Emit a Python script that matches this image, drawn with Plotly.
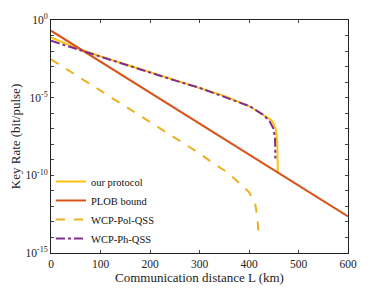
import plotly.graph_objects as go

# Data (distance in km, key rate in bit/pulse)
L_ours = [0, 20, 40, 60, 80, 100, 150, 200, 250, 300, 350, 400, 430, 445, 450, 454.5, 457, 458, 458.3]
R_ours = [7.6e-2, 4.0e-2, 2.2e-2, 1.26e-2, 7.2e-3, 4.5e-3, 1.41e-3, 4.4e-4, 1.35e-4, 4.3e-5,
          1.3e-5, 2.9e-6, 8.0e-7, 3.7e-7, 2.0e-7, 8.3e-8, 1.45e-8, 1.5e-9, 1.5e-10]

L_plob = [0, 100, 200, 300, 400, 500, 600]
R_plob = [2.04e-1, 2.1e-3, 2.1e-5, 2.2e-7, 2.2e-9, 2.2e-11, 2.3e-13]

L_pol = [0, 50, 100, 150, 200, 250, 300, 328, 355, 378, 400, 412, 417, 419]
R_pol = [2.95e-3, 2.9e-4, 2.9e-5, 2.8e-6, 2.8e-7, 2.7e-8, 2.6e-9, 5.8e-10, 1.66e-10,
         3.7e-11, 8.3e-12, 1.86e-12, 1.95e-13, 2.1e-14]

L_ph = [0, 50, 100, 150, 200, 250, 300, 368, 402, 429, 442, 449, 452.5, 453, 453.2]
R_ph = [4.6e-2, 1.41e-2, 4.4e-3, 1.35e-3, 4.2e-4, 1.29e-4, 4.3e-5, 7.4e-6, 2.75e-6,
        7.9e-7, 2.9e-7, 1.07e-7, 3.1e-8, 6.0e-9, 1.2e-9]

x_ticks = [0, 100, 200, 300, 400, 500, 600]
y_major_exps = [0, -5, -10, -15]
y_minor_exps = [e for e in range(0, -16, -1) if e % 5 != 0]

fig = go.Figure()
fig.add_trace(go.Scatter(x=L_ours, y=R_ours, mode="lines", name="our protocol",
                         line=dict(color="#FFC20E", width=2)))
fig.add_trace(go.Scatter(x=L_plob, y=R_plob, mode="lines", name="PLOB bound",
                         line=dict(color="#D95319", width=2)))
fig.add_trace(go.Scatter(x=L_pol, y=R_pol, mode="lines", name="WCP-Pol-QSS",
                         line=dict(color="#EDB120", width=2, dash="dash")))
fig.add_trace(go.Scatter(x=L_ph, y=R_ph, mode="lines", name="WCP-Ph-QSS",
                         line=dict(color="#7E2F8E", width=2, dash="dashdot")))

font = "Liberation Serif, Times New Roman, serif"
# the page body has an 8px margin, so the figure is sized to fit the 385x289 window
fig.update_layout(
    width=377, height=281,
    margin=dict(l=43, r=37, t=12, b=36),
    paper_bgcolor="white", plot_bgcolor="white",
    font=dict(family=font, size=11.5, color="#222"),
    showlegend=True,
    legend=dict(x=0.0, y=0.0, xanchor="left", yanchor="bottom",
                bgcolor="rgba(0,0,0,0)", font=dict(size=10.5, family=font, color="#111"),
                itemwidth=30, tracegroupgap=0),
    xaxis=dict(range=[0, 600], tickvals=x_ticks, ticks="inside", ticklen=3,
               showline=True, linecolor="#222", linewidth=1, mirror="ticks",
               showgrid=False, zeroline=False, automargin=False,
               title=dict(text="Communication distance L (km)", standoff=3,
                          font=dict(size=13, family=font))),
    yaxis=dict(type="log", range=[-15, 0],
               tickvals=[10.0 ** e for e in y_major_exps],
               ticktext=["10<sup>%d</sup>" % e for e in y_major_exps],
               ticks="inside", ticklen=3,
               minor=dict(tickvals=[10.0 ** e for e in y_minor_exps], ticks="inside",
                          ticklen=3, showgrid=False),
               showline=True, linecolor="#222", linewidth=1, mirror="ticks",
               showgrid=False, zeroline=False, automargin=False,
               title=dict(text="Key Rate (bit/pulse)", standoff=2,
                          font=dict(size=13, family=font))),
)

fig.write_html("out.html")
